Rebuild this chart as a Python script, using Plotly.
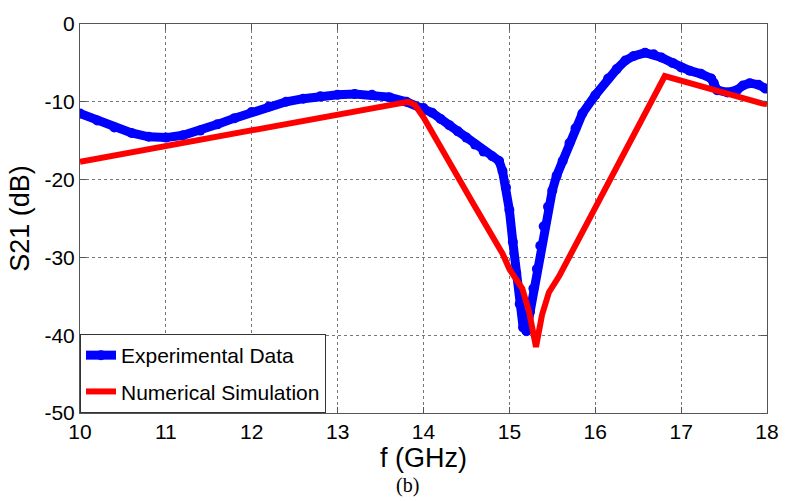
import plotly.graph_objects as go

exp_f = [10.0, 10.2, 10.4, 10.6, 10.8, 11.0, 11.2, 11.4, 11.6, 11.8, 12.0, 12.2, 12.4, 12.6, 12.8,
         13.0, 13.2, 13.4, 13.6, 13.8, 14.0, 14.1, 14.2, 14.3, 14.4, 14.5, 14.6, 14.7, 14.8, 14.88,
         14.92, 14.96, 15.0, 15.04, 15.08, 15.12, 15.16, 15.2, 15.24, 15.28, 15.32, 15.36, 15.4,
         15.45, 15.5, 15.55, 15.62, 15.7, 15.77, 15.85, 16.0, 16.15, 16.25, 16.35, 16.45, 16.58,
         16.68, 16.77, 16.9, 17.0, 17.1, 17.23, 17.35, 17.38, 17.42, 17.54, 17.65, 17.72, 17.8,
         17.9, 17.98]
exp_db = [-11.5, -12.4, -13.3, -14.0, -14.5, -14.6, -14.3, -13.7, -12.9, -12.1, -11.3, -10.6, -10.0,
          -9.6, -9.3, -9.1, -9.0, -9.1, -9.4, -10.0, -10.8, -11.4, -12.2, -13.0, -13.8, -14.6, -15.5,
          -16.4, -17.0, -17.6, -18.9, -21.0, -23.9, -28.0, -32.0, -36.0, -39.0, -39.5, -37.0, -34.0,
          -31.5, -28.5, -26.0, -23.5, -21.4, -19.5, -17.6, -15.3, -13.4, -11.5, -9.15, -7.0, -5.8,
          -4.7, -4.1, -3.7, -3.9, -4.3, -5.0, -5.6, -6.0, -6.4, -7.0, -7.6, -8.5, -8.8, -8.5, -7.9,
          -7.6, -7.8, -8.3]

sim_f = [10.0, 13.76, 13.82, 13.9, 14.0, 14.58, 14.92, 15.0, 15.15, 15.23, 15.31, 15.38, 15.46,
         15.58, 16.0, 16.81, 17.94, 18.0]
sim_db = [-17.7, -10.1, -10.0, -10.4, -12.0, -23.1, -29.5, -31.5, -34.0, -37.0, -41.5, -37.4, -34.5,
          -32.4, -23.5, -6.7, -10.2, -10.3]

x_ticks = [10, 11, 12, 13, 14, 15, 16, 17, 18]
y_ticks = [0, -10, -20, -30, -40, -50]

FONT = "Liberation Sans, Arial"

fig = go.Figure()
fig.add_trace(go.Scatter(x=exp_f, y=exp_db, mode="lines+markers", name="Experimental Data",
                         line=dict(color="#0000ff", width=9), marker=dict(color="#0000ff", size=10),
                         legendgroup="a"))
fig.add_trace(go.Scatter(x=sim_f, y=sim_db, mode="lines", name="Numerical Simulation",
                         line=dict(color="#ff0000", width=6), legendgroup="b"))

axis_common = dict(showline=True, linecolor="#555555", linewidth=1, mirror="ticks",
                   ticks="inside", ticklen=6, tickcolor="#555555",
                   showgrid=True, gridcolor="#777777", griddash="dot", gridwidth=1,
                   zeroline=False, tickfont=dict(family=FONT, size=21, color="black"))

fig.update_xaxes(range=[10, 18], tickvals=x_ticks, ticktext=[str(v) for v in x_ticks],
                 title=dict(text="f (GHz)", font=dict(family=FONT, size=27, color="black"),
                            standoff=0), **axis_common)
fig.update_yaxes(range=[-50, 0], tickvals=y_ticks, ticktext=[str(v) for v in y_ticks],
                 title=dict(text="S21 (dB)", font=dict(family=FONT, size=27, color="black"),
                            standoff=6), **axis_common)

fig.update_layout(
    width=791, height=501,
    margin=dict(l=80, r=18, t=18, b=88),
    paper_bgcolor="white", plot_bgcolor="white",
    legend=dict(x=0, y=0, xanchor="left", yanchor="bottom", bgcolor="white",
                bordercolor="#333333", borderwidth=1,
                font=dict(family=FONT, size=21, color="black"),
                tracegroupgap=6, itemwidth=30),
    annotations=[dict(text="(b)", x=0.476, y=-0.186, xref="paper", yref="paper", xanchor="center",
                      yanchor="middle", showarrow=False,
                      font=dict(family="Liberation Serif, Times New Roman", size=20, color="black"))],
)
fig.write_html("out.html")
